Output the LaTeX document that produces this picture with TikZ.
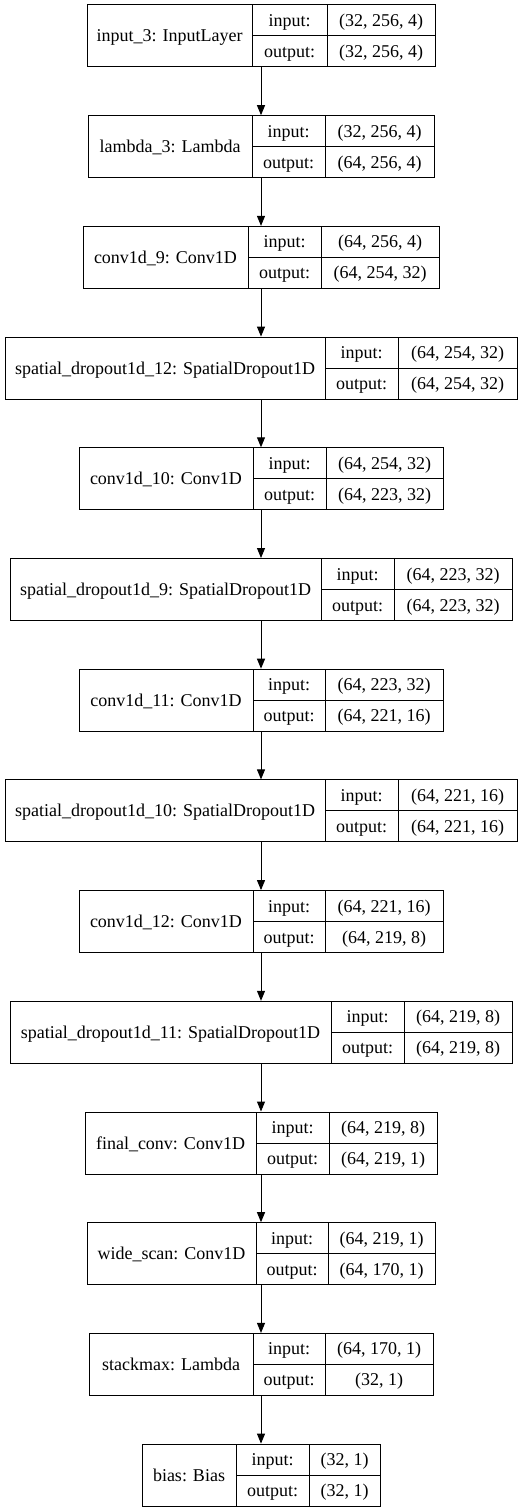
\documentclass[tikz,border=0pt]{standalone}
\usepackage{fontspec}
\setmainfont{Liberation Serif}
\usetikzlibrary{arrows.meta}
\tikzset{
  layerbox/.style={draw, line width=1pt, inner sep=0pt, minimum height=62pt},
  divline/.style={line width=1pt},
  lbl/.style={inner sep=0pt, font=\fontsize{18}{22}\selectfont, anchor=base},
  conn/.style={line width=1pt, -{Triangle[length=10pt,width=8pt]}}
}
% #1 name, #2 index, #3 left, #4 divider1, #5 divider2, #6 label, #7 input, #8 output
\newcommand\layerrow[8]{%
  \pgfmathsetmacro\ltop{-(5+110.7*#2)}%
  \pgfmathsetmacro\lwid{522-2*#3}%
  \pgfmathsetmacro\lright{522-#3}%
  \node[layerbox, minimum width=\lwid pt] (#1) at (261,\ltop-31) {};
  \draw[divline] (#4,\ltop) -- (#4,\ltop-62);
  \draw[divline] (#5,\ltop) -- (#5,\ltop-62);
  \draw[divline] (#4,\ltop-31) -- (\lright,\ltop-31);
  \node[lbl] (#1-name) at ({(#3+#4)/2},\ltop-37) {#6};
  \node[lbl] (#1-inl) at ({(#4+#5)/2},\ltop-21.5) {input:};
  \node[lbl] (#1-outl) at ({(#4+#5)/2},\ltop-52.5) {output:};
  \node[lbl] (#1-inv) at ({(#5+\lright)/2},\ltop-21.5) {#7};
  \node[lbl] (#1-outv) at ({(#5+\lright)/2},\ltop-52.5) {#8};
}
\begin{document}
\begin{tikzpicture}[x=1pt,y=1pt]
  \useasboundingbox (0,0) rectangle (523,-1512);
  \layerrow{l0}{0}{87}{252}{327}{input\_3: InputLayer}{(32, 256, 4)}{(32, 256, 4)}
  \layerrow{l1}{1}{88}{252}{325}{lambda\_3: Lambda}{(32, 256, 4)}{(64, 256, 4)}
  \layerrow{l2}{2}{83}{248}{321}{conv1d\_9: Conv1D}{(64, 256, 4)}{(64, 254, 32)}
  \layerrow{l3}{3}{5}{325}{398}{spatial\_dropout1d\_12: SpatialDropout1D}{(64, 254, 32)}{(64, 254, 32)}
  \layerrow{l4}{4}{79}{253}{326}{conv1d\_10: Conv1D}{(64, 254, 32)}{(64, 223, 32)}
  \layerrow{l5}{5}{10}{321}{394}{spatial\_dropout1d\_9: SpatialDropout1D}{(64, 223, 32)}{(64, 223, 32)}
  \layerrow{l6}{6}{79}{253}{325}{conv1d\_11: Conv1D}{(64, 223, 32)}{(64, 221, 16)}
  \layerrow{l7}{7}{5}{325}{398}{spatial\_dropout1d\_10: SpatialDropout1D}{(64, 221, 16)}{(64, 221, 16)}
  \layerrow{l8}{8}{79}{253}{325}{conv1d\_12: Conv1D}{(64, 221, 16)}{(64, 219, 8)}
  \layerrow{l9}{9}{10}{331}{404}{spatial\_dropout1d\_11: SpatialDropout1D}{(64, 219, 8)}{(64, 219, 8)}
  \layerrow{l10}{10}{85}{256}{329}{final\_conv: Conv1D}{(64, 219, 8)}{(64, 219, 1)}
  \layerrow{l11}{11}{87}{256}{328}{wide\_scan: Conv1D}{(64, 219, 1)}{(64, 170, 1)}
  \layerrow{l12}{12}{89}{253}{325}{stackmax: Lambda}{(64, 170, 1)}{(32, 1)}
  \layerrow{l13}{13}{142}{236}{309}{bias: Bias}{(32, 1)}{(32, 1)}
  \foreach \a/\b in {l0/l1,l1/l2,l2/l3,l3/l4,l4/l5,l5/l6,l6/l7,l7/l8,l8/l9,l9/l10,l10/l11,l11/l12,l12/l13}
    \draw[conn] (\a.south) -- (\b.north);
\end{tikzpicture}
\end{document}
